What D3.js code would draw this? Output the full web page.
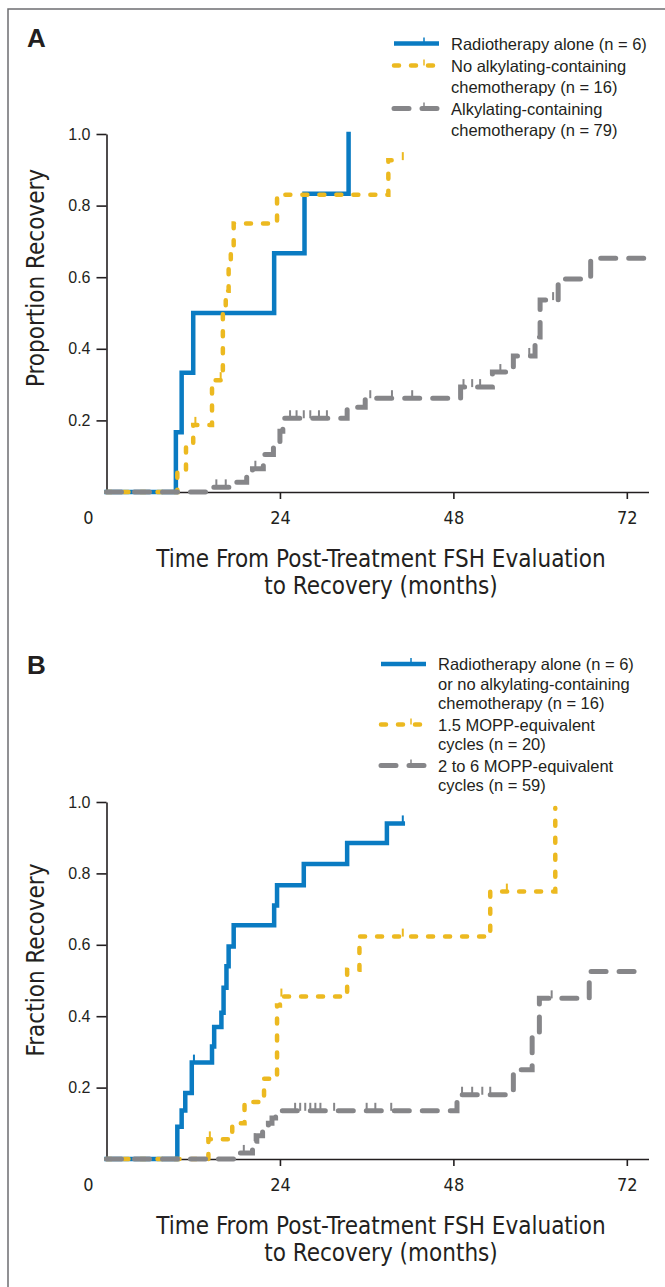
<!DOCTYPE html>
<html>
<head>
<meta charset="utf-8">
<script src="https://cdn.jsdelivr.net/npm/d3@7"></script>
<style>
  body { margin: 0; background: #fff; }
  .tick-y { font-family: "Liberation Sans", Arial, sans-serif; font-size: 16px; fill: #231f20; }
  .tick-x { font-family: "Liberation Sans Narrow", "DejaVu Sans Condensed", sans-serif; font-size: 18px; fill: #231f20; }
  .axis-title { font-family: "Liberation Sans Narrow", "DejaVu Sans Condensed", sans-serif; font-size: 24px; fill: #231f20; }
  .legend-text { font-family: "Liberation Sans", Arial, sans-serif; font-size: 16.5px; fill: #231f20; }
  .panel-letter { font-family: "Liberation Sans", Arial, sans-serif; font-size: 26px; font-weight: bold; fill: #231f20; }
</style>
</head>
<body>
<div id="chart"></div>
<script>
// Ticks
const monthTicks = [24, 48, 72];
const propTicks = [0.2, 0.4, 0.6, 0.8, 1.0];

// Panel A : [months, proportion recovered]
const aRadio = [[0,0],[9.6,0.167],[10.4,0.333],[12,0.5],[23.2,0.667],[27.4,0.833],[33.5,1.0]];
const aNoAlk = [[0,0],[9.8,0.06],[11,0.125],[12,0.1875],[14.6,0.3125],[16.1,0.5],[16.5,0.5625],[16.9,0.625],[17.2,0.6875],[17.6,0.75],[23.6,0.83],[39,0.927],[41,0.927]];
const aAlk = [[0,0],[14,0.013],[17.4,0.027],[19.4,0.045],[20.2,0.065],[21.7,0.105],[23.1,0.14],[24,0.17],[24.4,0.206],[33.3,0.237],[35.8,0.262],[49,0.293],[53.4,0.335],[56.3,0.38],[59.3,0.433],[60,0.536],[62.5,0.595],[67,0.653],[75,0.653]];
// censored observations
const aNoAlkCens = [[12.3,0.1875],[15.8,0.3125],[41,0.927]];
const aAlkCens = [[15.2,0.013],[16.5,0.013],[20.6,0.065],[25.4,0.206],[26.3,0.206],[27.3,0.206],[28.2,0.206],[29.4,0.206],[30.5,0.206],[36.5,0.262],[39.5,0.262],[42.3,0.262],[49.4,0.293],[50.6,0.293],[51.7,0.293],[54.5,0.335],[58.5,0.38],[61.8,0.536]];

// Panel B
const bRadioNoAlk = [[0,0],[9.8,0.09],[10.4,0.136],[10.9,0.185],[11.8,0.27],[14.6,0.315],[14.9,0.37],[15.9,0.41],[16.2,0.48],[16.6,0.54],[16.9,0.595],[17.6,0.655],[23.2,0.71],[23.6,0.767],[27.3,0.826],[33.3,0.885],[38.8,0.94],[41,0.94]];
const bLowMopp = [[0,0],[14.1,0.055],[17.4,0.1],[19.1,0.16],[21.8,0.225],[23.6,0.43],[24,0.455],[33.3,0.53],[35,0.623],[53.1,0.749],[62.1,0.983]];
const bHighMopp = [[0,0],[18.5,0.017],[20.2,0.05],[20.8,0.065],[21.6,0.08],[22.4,0.1],[22.9,0.115],[23.4,0.128],[24.3,0.135],[48.5,0.18],[56.3,0.25],[58.9,0.35],[59.9,0.45],[66.8,0.525],[73.6,0.525]];
const bRadioCens = [[12.1,0.27],[41,0.94]];
const bLowCens = [[14.3,0.055],[24.2,0.455],[41,0.623],[55.4,0.749]];
const bHighCens = [[19,0.017],[20.5,0.05],[26.1,0.135],[26.8,0.135],[27.5,0.135],[28.2,0.135],[28.9,0.135],[29.6,0.135],[31.5,0.135],[36,0.135],[37.2,0.135],[39.4,0.135],[49.2,0.18],[50.6,0.18],[52,0.18],[53.1,0.18],[61.6,0.45]];

// Legend labels
const aLegend = [["Radiotherapy alone (n = 6)"], ["No alkylating-containing", "chemotherapy (n = 16)"], ["Alkylating-containing", "chemotherapy (n = 79)"]];
const bLegend = [["Radiotherapy alone (n = 6)", "or no alkylating-containing", "chemotherapy (n = 16)"], ["1.5 MOPP-equivalent", "cycles (n = 20)"], ["2 to 6 MOPP-equivalent", "cycles (n = 59)"]];

const xTitle = ["Time From Post-Treatment FSH Evaluation", "to Recovery (months)"];

// styles of the three curves
const styles = [
  { color: "#0a7bc2", width: 4.5, dash: null },
  { color: "#ecb920", width: 4.5, dash: "5,12" },
  { color: "#868689", width: 5, dash: "15,13" }
];

const W = 665, H = 1287;
const svg = d3.select("#chart").append("svg")
  .attr("width", W)
  .attr("height", H);

// frame
svg.append("path")
  .attr("d", `M8,${H} V9 H${W}`)
  .attr("fill", "none")
  .attr("stroke", "#6d6e71")
  .attr("stroke-width", 1.5);

const x = d3.scaleLinear().domain([0, 75]).range([106.5, 648.5]);

function drawPanel(cfg) {
  const y = d3.scaleLinear().domain([0, 1]).range([cfg.y0, cfg.y1]);
  const g = svg.append("g");

  g.append("text").attr("class", "panel-letter")
    .attr("x", 27).attr("y", cfg.letterY).text(cfg.letter);

  // axes
  const xAxis = g.append("g")
    .attr("transform", `translate(0,${cfg.y0})`)
    .call(d3.axisBottom(x).tickValues(monthTicks).tickSize(7).tickSizeOuter(0).tickPadding(12));
  xAxis.selectAll("text").attr("class", "tick-x").attr("font-family", null).attr("font-size", null);
  xAxis.append("text").attr("class", "tick-x")
    .attr("x", x(0) - 18).attr("y", 19).attr("dy", "0.71em")
    .attr("text-anchor", "middle").text("0");

  const yAxis = g.append("g")
    .attr("transform", `translate(${x(0)},0)`)
    .call(d3.axisLeft(y).tickValues(propTicks).tickFormat(d3.format(".1f")).tickSize(10).tickSizeOuter(0).tickPadding(6));
  yAxis.selectAll("text").attr("class", "tick-y").attr("font-family", null).attr("font-size", null);

  g.selectAll(".domain, .tick line").attr("stroke", "#231f20").attr("stroke-width", 1.6);

  // axis titles
  g.append("text").attr("class", "axis-title")
    .attr("transform", `translate(44,${cfg.yTitleY}) rotate(-90)`)
    .attr("text-anchor", "middle").text(cfg.yTitle);
  g.selectAll(".xt").data(xTitle).enter().append("text")
    .attr("class", "axis-title")
    .attr("x", 381).attr("y", (d, i) => cfg.y0 + 75 + i * 27)
    .attr("text-anchor", "middle").text(d => d);

  // curves
  const line = d3.line().x(d => x(d[0])).y(d => y(d[1])).curve(d3.curveStepAfter);
  cfg.series.forEach((s, i) => {
    const st = styles[i];
    g.append("path").datum(s)
      .attr("d", line)
      .attr("fill", "none")
      .attr("stroke", st.color)
      .attr("stroke-width", st.width)
      .attr("stroke-linecap", st.dash ? "round" : "square")
      .attr("stroke-linejoin", "miter")
      .attr("stroke-dasharray", st.dash);
    g.selectAll(null).data(cfg.censors[i]).enter().append("line")
      .attr("x1", d => x(d[0])).attr("x2", d => x(d[0]))
      .attr("y1", d => y(d[1])).attr("y2", d => y(d[1]) - 8)
      .attr("stroke", st.color).attr("stroke-width", 2);
  });

  // legend
  let ly = cfg.legY;
  cfg.legend.forEach((lines, i) => {
    const st = styles[i];
    g.append("line")
      .attr("x1", cfg.legX).attr("x2", cfg.legX + 45)
      .attr("y1", ly - 6).attr("y2", ly - 6)
      .attr("stroke", st.color).attr("stroke-width", st.width)
      .attr("stroke-linecap", st.dash ? "round" : "butt")
      .attr("stroke-dasharray", st.dash);
    g.append("line")
      .attr("x1", cfg.legX + 30).attr("x2", cfg.legX + 30)
      .attr("y1", ly - 6).attr("y2", ly - 12)
      .attr("stroke", st.color).attr("stroke-width", 1.5);
    lines.forEach((t, j) => {
      g.append("text").attr("class", "legend-text")
        .attr("x", cfg.legX + 57).attr("y", ly + j * cfg.lineH).text(t);
    });
    ly += lines.length * cfg.lineH + cfg.gap;
  });
}

drawPanel({
  letter: "A", letterY: 47, y0: 492, y1: 134,
  yTitle: "Proportion Recovery", yTitleY: 278,
  series: [aRadio, aNoAlk, aAlk],
  censors: [[], aNoAlkCens, aAlkCens],
  legend: aLegend, legX: 394, legY: 49.5, lineH: 21, gap: 1
});

drawPanel({
  letter: "B", letterY: 674, y0: 1159, y1: 802,
  yTitle: "Fraction Recovery", yTitleY: 960,
  series: [bRadioNoAlk, bLowMopp, bHighMopp],
  censors: [bRadioCens, bLowCens, bHighCens],
  legend: bLegend, legX: 381, legY: 670, lineH: 19.5, gap: 2
});
</script>
</body>
</html>
